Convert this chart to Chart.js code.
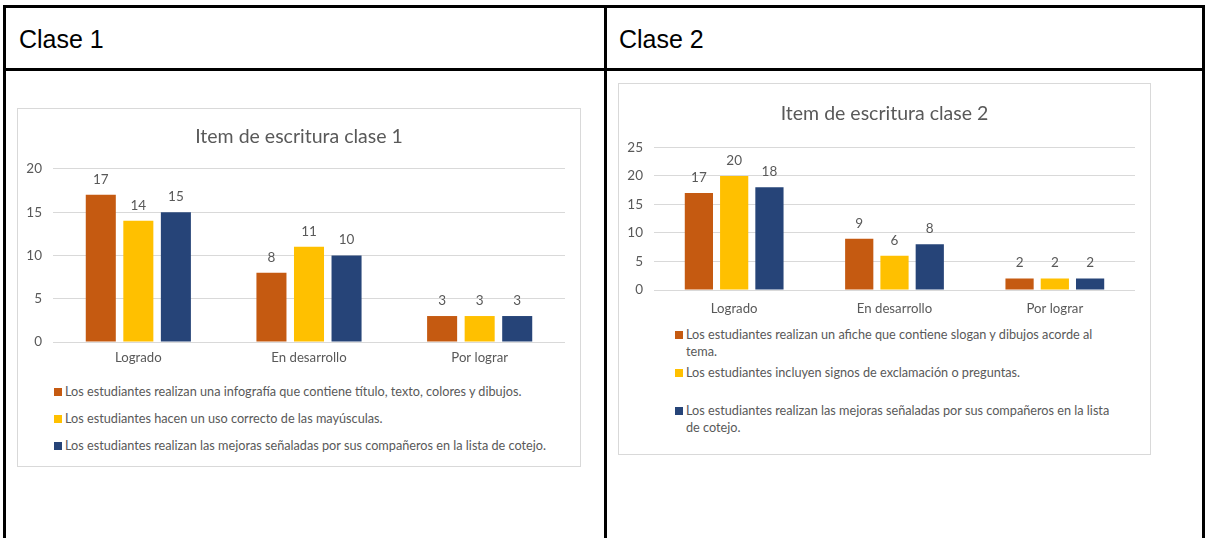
<!DOCTYPE html>
<html>
<head>
<meta charset="utf-8">
<script src="https://cdn.jsdelivr.net/npm/chart.js@4"></script>
<style>
  body { margin: 0; background: #fff; width: 1207px; height: 538px; overflow: hidden; position: relative; }
  .rule { position: absolute; background: #000; }
  .head { position: absolute; font-family: "Liberation Sans", Arial, sans-serif; font-size: 25px; line-height: 60px; color: #000; }
  .box { position: absolute; border: 1px solid #d9d9d9; box-sizing: border-box; }
  canvas { position: absolute; }
  .legend { position: absolute; font-family: Lato, sans-serif; font-size: 12.7px; line-height: 17px; color: #595959; }
  .legend .item { position: relative; padding-left: 11px; }
  .legend .sw { position: absolute; left: 0; top: 5px; width: 8px; height: 8px; }
</style>
</head>
<body>
<!-- table borders -->
<div class="rule" style="left:3px;top:5px;width:1202px;height:3px"></div>
<div class="rule" style="left:3px;top:68px;width:1202px;height:3px"></div>
<div class="rule" style="left:3px;top:5px;width:3px;height:533px"></div>
<div class="rule" style="left:604px;top:5px;width:3px;height:533px"></div>
<div class="rule" style="left:1202px;top:5px;width:3px;height:533px"></div>
<div class="head" style="left:19px;top:9px">Clase 1</div>
<div class="head" style="left:619px;top:9px">Clase 2</div>

<div class="box" style="left:17px;top:108px;width:564px;height:359px"></div>
<canvas id="chart1" width="562" height="260" style="left:18px;top:109px"></canvas>
<div class="legend" id="legend1" style="left:54px;top:383px;width:520px"></div>

<div class="box" style="left:618px;top:83px;width:533px;height:372px"></div>
<canvas id="chart2" width="531" height="236" style="left:619px;top:84px"></canvas>
<div class="legend" id="legend2" style="left:675px;top:326px;width:446px"></div>

<script>
const categories = ["Logrado", "En desarrollo", "Por lograr"];

// Clase 1
const clase1Infografia = [17, 8, 3];
const clase1Mayusculas = [14, 11, 3];
const clase1Mejoras = [15, 10, 3];
const clase1Names = [
  "Los estudiantes realizan una infografía que contiene título, texto, colores y dibujos.",
  "Los estudiantes hacen un uso correcto de las mayúsculas.",
  "Los estudiantes realizan las mejoras señaladas por sus compañeros en la lista de cotejo.",
];
const clase1Ticks = [0, 5, 10, 15, 20];

// Clase 2
const clase2Afiche = [17, 9, 2];
const clase2Signos = [20, 6, 2];
const clase2Mejoras = [18, 8, 2];
const clase2Names = [
  "Los estudiantes realizan un afiche que contiene slogan y dibujos acorde al tema.",
  "Los estudiantes incluyen signos de exclamación o preguntas.",
  "Los estudiantes realizan las mejoras señaladas por sus compañeros en la lista de cotejo.",
];
const clase2Ticks = [0, 5, 10, 15, 20, 25];

const colors = ["#C55A11", "#FFC000", "#264478"];
const grey = "#595959";

// numbers above the bars
const valueLabels = {
  id: "valueLabels",
  afterDatasetsDraw(chart) {
    const ctx = chart.ctx;
    ctx.save();
    ctx.font = "13.5px Lato";
    ctx.fillStyle = grey;
    ctx.textAlign = "center";
    ctx.textBaseline = "middle";
    chart.data.datasets.forEach((ds, i) => {
      chart.getDatasetMeta(i).data.forEach((bar, j) => {
        ctx.fillText(ds.data[j], bar.x, bar.y - 15.5);
      });
    });
    ctx.restore();
  },
};

function makeChart(id, title, series, names, ticks, lay) {
  return new Chart(document.getElementById(id), {
    type: "bar",
    data: {
      labels: categories,
      datasets: series.map((d, i) => ({
        label: names[i],
        data: d,
        yAxisID: "y",
        backgroundColor: colors[i],
        categoryPercentage: 0.66,
        barPercentage: 0.8,
      })),
    },
    options: {
      responsive: false,
      animation: false,
      devicePixelRatio: 1,
      layout: { padding: 0 },
      plugins: {
        legend: { display: false },
        tooltip: { enabled: false },
        title: {
          display: true,
          text: title,
          color: grey,
          font: { family: "Lato", size: 19.5, weight: "normal", lineHeight: 1.2 },
          padding: { top: lay.titleTop, bottom: lay.titleBottom },
        },
      },
      scales: {
        x: {
          grid: { display: false, drawTicks: false },
          border: { display: false },
          ticks: { color: grey, font: { family: "Lato", size: 13.2 }, padding: lay.xPad },
          afterFit: (s) => { s.height = lay.xHeight; },
        },
        y: {
          min: ticks[0],
          max: ticks[ticks.length - 1],
          ticks: { stepSize: ticks[1] - ticks[0], color: grey, font: { family: "Lato", size: 13.5 }, padding: 11 },
          grid: { color: "#d9d9d9", drawTicks: false },
          border: { display: false },
          afterFit: (s) => { s.width = 35; },
        },
        // empty right axis: only reserves the right margin so the title stays centred
        yRight: {
          position: "right",
          grid: { display: false, drawTicks: false },
          border: { display: false },
          ticks: { display: false },
          afterFit: (s) => { s.width = 15; },
        },
      },
    },
    plugins: [valueLabels],
  });
}

function htmlLegend(el, chart, itemHeight) {
  chart.data.datasets.forEach((ds) => {
    const item = document.createElement("div");
    item.className = "item";
    item.style.height = itemHeight + "px";
    const sw = document.createElement("span");
    sw.className = "sw";
    sw.style.background = ds.backgroundColor;
    item.appendChild(sw);
    item.appendChild(document.createTextNode(ds.label));
    el.appendChild(item);
  });
}

const chart1 = makeChart("chart1", "Item de escritura clase 1",
  [clase1Infografia, clase1Mayusculas, clase1Mejoras], clase1Names, clase1Ticks,
  { titleTop: 16, titleBottom: 20.5, xPad: 8, xHeight: 27 });
htmlLegend(document.getElementById("legend1"), chart1, 27);

const chart2 = makeChart("chart2", "Item de escritura clase 2",
  [clase2Afiche, clase2Signos, clase2Mejoras], clase2Names, clase2Ticks,
  { titleTop: 18, titleBottom: 22, xPad: 11, xHeight: 30 });
htmlLegend(document.getElementById("legend2"), chart2, 38);
</script>
</body>
</html>
